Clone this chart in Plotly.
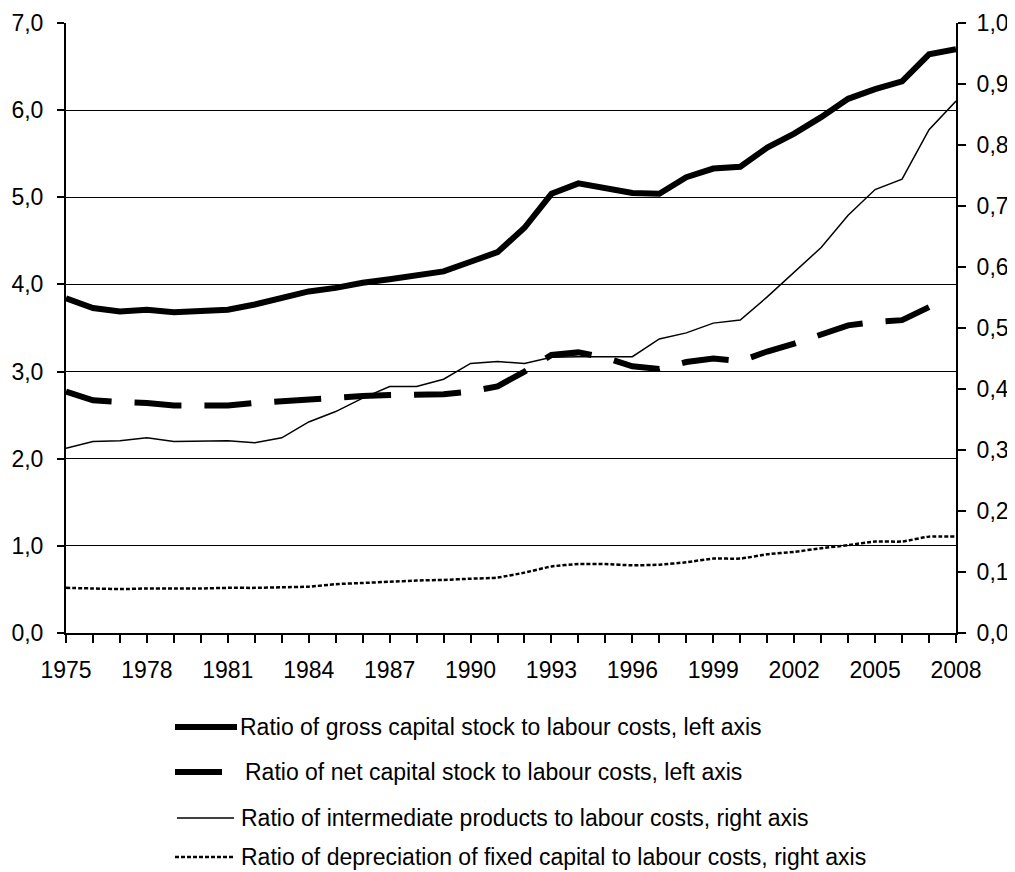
import plotly.graph_objects as go

years = list(range(1975, 2009))

gross_capital = [3.84, 3.73, 3.69, 3.71, 3.68, 3.70, 3.71, 3.77, 3.84, 3.92,
                 3.96, 4.02, 4.06, 4.11, 4.15, 4.26, 4.37, 4.65, 5.04, 5.16,
                 5.10, 5.05, 5.04, 5.23, 5.33, 5.35, 5.57, 5.73, 5.92, 6.13,
                 6.24, 6.33, 6.64, 6.70]

net_capital = [2.77, 2.67, 2.65, 2.64, 2.61, 2.61, 2.61, 2.64, 2.66, 2.69,
               2.70, 2.72, 2.73, 2.74, 2.74, 2.77, 2.83, 3.00, 3.19, 3.22,
               3.16, 3.06, 3.03, 3.11, 3.15, 3.12, 3.23, 3.32, 3.42, 3.53,
               3.57, 3.59, 3.74, None]

intermediate = [0.303, 0.314, 0.315, 0.320, 0.314, 0.314, 0.315, 0.312, 0.320, 0.346,
                0.363, 0.385, 0.404, 0.404, 0.416, 0.442, 0.445, 0.442, 0.452, 0.453,
                0.453, 0.453, 0.482, 0.492, 0.508, 0.513, 0.551, 0.592, 0.632, 0.685,
                0.727, 0.744, 0.825, 0.872]

depreciation = [0.074, 0.073, 0.072, 0.073, 0.073, 0.073, 0.074, 0.074, 0.075, 0.076,
                0.080, 0.082, 0.084, 0.086, 0.087, 0.089, 0.091, 0.099, 0.109, 0.113,
                0.113, 0.111, 0.112, 0.116, 0.122, 0.122, 0.129, 0.133, 0.139, 0.144,
                0.150, 0.150, 0.158, 0.158]

names = [
    "Ratio of gross capital stock to labour costs, left axis",
    "Ratio of net capital stock to labour costs, left axis",
    "Ratio of intermediate products to labour costs, right axis",
    "Ratio of depreciation of fixed capital to labour costs, right axis",
]

styles = [
    dict(color="black", width=6),
    dict(color="black", width=6, dash="47px,23px"),
    dict(color="black", width=1.5),
    dict(color="black", width=2.5, dash="4px,2px"),
]

fig = go.Figure()
fig.add_trace(go.Scatter(x=years, y=gross_capital, name=names[0], mode="lines", line=styles[0]))
fig.add_trace(go.Scatter(x=years, y=net_capital, name=names[1], mode="lines", line=styles[1]))
fig.add_trace(go.Scatter(x=years, y=intermediate, name=names[2], mode="lines", yaxis="y2",
                         line=styles[2]))
fig.add_trace(go.Scatter(x=years, y=depreciation, name=names[3], mode="lines", yaxis="y2",
                         line=dict(styles[3], shape="spline", smoothing=0.6)))

font = dict(family="Liberation Sans, Arial, sans-serif", size=23, color="black")
legend_font = dict(family="Liberation Sans, Arial, sans-serif", size=23, color="black")

# page geometry (window pixels; browser body margin of 8px)
PL, PR, PT, PB = 66, 956, 23, 633


def px2x(px):
    return (px - PL) / (PR - PL)


def px2y(py):
    return (PB - py) / (PB - PT)


# manual legend (sample lines + labels)
legend_rows = [727, 772, 818, 857]
sample_x = [(175, 237), (175, 222), (177, 234), (175, 234)]
text_x = [239, 244, 240, 240]
shapes = []
annotations = []
for i in range(4):
    st = dict(styles[i])
    if i == 1:
        st.pop("dash")
    shapes.append(dict(type="line", xref="paper", yref="paper",
                       x0=px2x(sample_x[i][0]), x1=px2x(sample_x[i][1]),
                       y0=px2y(legend_rows[i]), y1=px2y(legend_rows[i]), line=st))
    annotations.append(dict(xref="paper", yref="paper", x=px2x(text_x[i]), y=px2y(legend_rows[i]),
                            xanchor="left", yanchor="middle", text=names[i], showarrow=False,
                            font=legend_font, borderpad=0))

fig.update_layout(
    width=1007, height=864,
    margin=dict(l=58, r=59, t=15, b=239, autoexpand=False),
    plot_bgcolor="white", paper_bgcolor="white",
    separators=", ",
    font=font,
    showlegend=False,
    shapes=shapes,
    annotations=annotations,
    xaxis=dict(range=[1975, 2008], tickmode="linear", tick0=1975, dtick=3,
               ticks="outside", ticklen=8, tickcolor="black", tickwidth=1.5,
               minor=dict(dtick=1, tick0=1975, ticks="outside", ticklen=8, tickcolor="black", tickwidth=1.5),
               showline=True, linecolor="black", linewidth=2, showgrid=False,
               zeroline=False, tickfont=font, ticklabelstandoff=7),
    yaxis=dict(range=[0, 7], tickmode="linear", tick0=0, dtick=1, tickformat=".1f",
               ticks="outside", ticklen=7, tickcolor="black", tickwidth=1.5,
               showline=True, linecolor="black", linewidth=2,
               showgrid=True, gridcolor="black", gridwidth=1, zeroline=False,
               tickfont=font, ticklabelstandoff=9),
    yaxis2=dict(range=[0, 1], overlaying="y", side="right", tickmode="linear", tick0=0,
                dtick=0.1, tickformat=".1f", ticks="outside", ticklen=8, tickcolor="black",
                tickwidth=1.5, showline=True, linecolor="black", linewidth=2,
                showgrid=False, zeroline=False, tickfont=font, ticklabelstandoff=6),
)

fig.write_html("out.html")
